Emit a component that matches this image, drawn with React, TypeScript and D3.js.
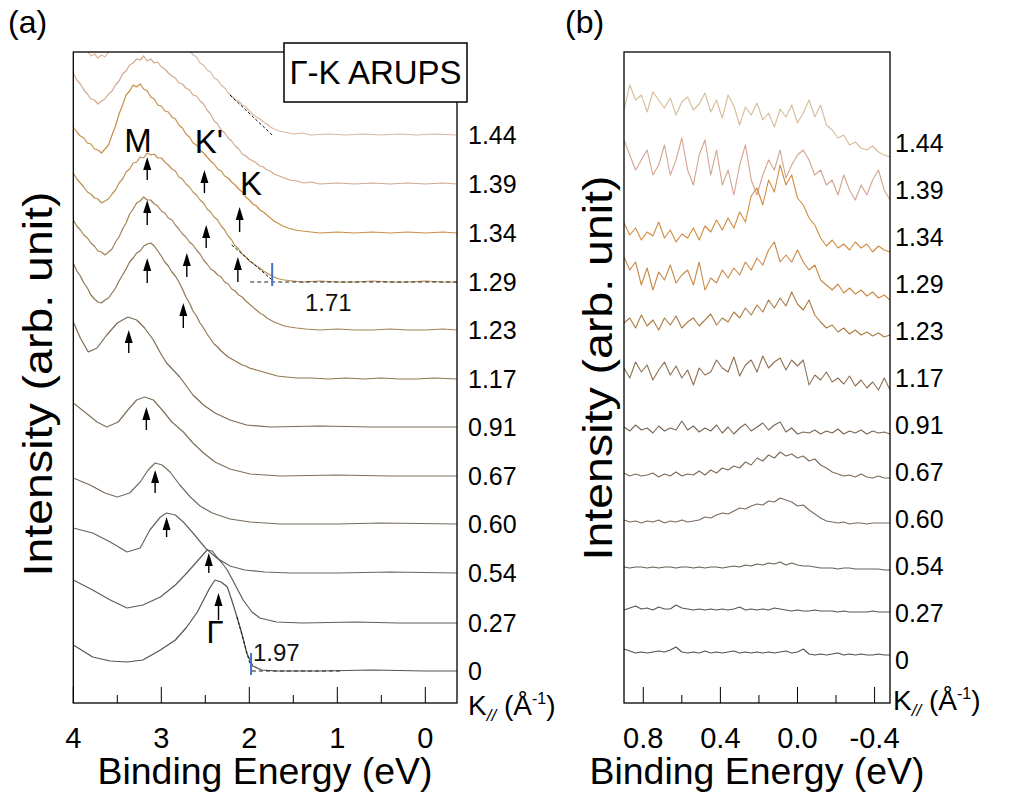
import React from "react";
import * as d3 from "d3";

const FONT = "'Liberation Sans', Arial, Helvetica, sans-serif";

// ---------- Panel (a): Γ-K ARUPS EDCs, [binding energy eV, intensity above own baseline] ----------
const K_LABELS = ["1.44", "1.39", "1.34", "1.29", "1.23", "1.17", "0.91", "0.67", "0.60", "0.54", "0.27", "0"];
const OFFSETS_A = [568, 519, 470, 421, 373, 324, 276, 227, 179, 130, 80, 32];
const COLORS_A = ["#d9b9a2", "#d2a98e", "#c98f45", "#bb9055", "#a38356", "#8f7552", "#7d6a56", "#7f705c", "#786c60", "#6c645c", "#625c56", "#57524e"];

const A144 = [[4.0,90],[3.96,86],[3.92,88],[3.88,83],[3.84,84],[3.8,79],[3.76,81],[3.72,77],[3.68,80],[3.64,78],[3.6,83],[3.56,86],[3.52,90],[3.48,95],[3.44,99],[3.4,105],[3.36,108],[3.32,114],[3.28,113],[3.24,119],[3.2,116],[3.16,121],[3.12,118],[3.08,122],[3.04,117],[3.0,118],[2.96,114],[2.92,112],[2.88,106],[2.84,104],[2.8,98],[2.76,96],[2.72,88],[2.68,85],[2.64,80],[2.6,78],[2.56,72],[2.52,70],[2.48,65],[2.44,63],[2.4,57],[2.36,55],[2.32,50],[2.28,47],[2.24,42],[2.2,39],[2.16,35],[2.12,34],[2.08,30],[2.04,28],[2.0,24],[1.96,21],[1.92,18],[1.88,16],[1.84,13],[1.8,11],[1.76,8],[1.72,6],[1.66,4],[1.6,3],[1.5,1],[1.4,2],[1.3,0],[1.1,1],[0.9,0],[0.7,1],[0.5,0],[0.3,1],[0.1,0],[-0.1,1],[-0.36,0]];
const A139 = [[4.0,111],[3.96,104],[3.92,100],[3.88,94],[3.84,90],[3.8,85],[3.76,84],[3.72,80],[3.68,83],[3.64,85],[3.6,90],[3.56,93],[3.52,99],[3.48,103],[3.44,110],[3.4,113],[3.36,119],[3.32,121],[3.28,125],[3.24,124],[3.2,128],[3.16,123],[3.12,125],[3.08,121],[3.04,122],[3.0,117],[2.96,115],[2.92,111],[2.88,108],[2.84,106],[2.8,101],[2.76,100],[2.72,96],[2.68,94],[2.64,89],[2.6,88],[2.56,83],[2.52,80],[2.48,74],[2.44,70],[2.4,63],[2.36,60],[2.32,54],[2.28,51],[2.24,46],[2.2,43],[2.16,38],[2.12,35],[2.08,30],[2.04,28],[2.0,25],[1.96,23],[1.92,21],[1.88,18],[1.84,17],[1.8,14],[1.76,13],[1.72,10],[1.66,8],[1.6,6],[1.54,4],[1.46,3],[1.38,1],[1.3,2],[1.2,0],[1.0,1],[0.8,0],[0.6,1],[0.4,0],[0.2,1],[0.0,0],[-0.2,1],[-0.36,0]];
const A134 = [[4.0,106],[3.96,101],[3.92,97],[3.88,95],[3.84,90],[3.8,89],[3.76,84],[3.72,83],[3.68,80],[3.64,84],[3.6,88],[3.56,98],[3.52,107],[3.48,119],[3.44,128],[3.4,138],[3.36,142],[3.32,148],[3.28,146],[3.24,149],[3.2,144],[3.16,142],[3.12,136],[3.08,134],[3.04,128],[3.0,127],[2.96,122],[2.92,121],[2.88,116],[2.84,114],[2.8,108],[2.76,105],[2.72,99],[2.68,96],[2.64,90],[2.6,88],[2.56,83],[2.52,80],[2.48,76],[2.44,72],[2.4,69],[2.36,64],[2.32,62],[2.28,57],[2.24,55],[2.2,51],[2.16,48],[2.12,44],[2.08,41],[2.04,36],[2.0,33],[1.96,29],[1.92,27],[1.88,23],[1.84,21],[1.8,18],[1.76,15],[1.72,12],[1.68,10],[1.62,7],[1.56,5],[1.48,3],[1.4,2],[1.3,1],[1.2,0],[1.0,1],[0.8,0],[0.6,1],[0.4,0],[0.2,1],[0.0,0],[-0.2,1],[-0.36,0]];
const A129 = [[4.0,109],[3.96,103],[3.92,99],[3.88,95],[3.84,90],[3.8,88],[3.76,84],[3.72,83],[3.68,79],[3.64,81],[3.6,83],[3.56,88],[3.52,92],[3.48,99],[3.44,103],[3.4,110],[3.36,113],[3.32,119],[3.28,120],[3.24,125],[3.2,124],[3.16,129],[3.12,127],[3.08,128],[3.04,124],[3.0,124],[2.96,120],[2.92,117],[2.88,113],[2.84,111],[2.8,105],[2.76,103],[2.72,98],[2.68,95],[2.64,90],[2.6,87],[2.56,82],[2.52,79],[2.48,73],[2.44,70],[2.4,65],[2.36,62],[2.32,56],[2.28,52],[2.24,46],[2.2,42],[2.16,36],[2.12,33],[2.08,28],[2.04,25],[2.0,21],[1.96,19],[1.92,16],[1.88,14],[1.84,11],[1.8,9],[1.76,7],[1.72,5],[1.66,3],[1.6,2],[1.5,1],[1.4,0],[1.2,1],[1.0,0],[0.8,0],[0.6,1],[0.4,0],[0.2,0],[0.0,1],[-0.2,0],[-0.36,0]];
const A123 = [[4.0,110],[3.96,104],[3.92,100],[3.88,95],[3.84,92],[3.8,87],[3.76,84],[3.72,79],[3.68,78],[3.64,75],[3.6,78],[3.56,81],[3.52,88],[3.48,93],[3.44,101],[3.4,107],[3.36,116],[3.32,121],[3.28,127],[3.24,129],[3.2,133],[3.16,130],[3.12,130],[3.08,126],[3.04,124],[3.0,119],[2.96,117],[2.92,112],[2.88,110],[2.84,105],[2.8,101],[2.76,96],[2.72,93],[2.68,88],[2.64,85],[2.6,80],[2.56,76],[2.52,70],[2.48,66],[2.44,61],[2.4,59],[2.36,55],[2.32,53],[2.28,48],[2.24,46],[2.2,41],[2.16,39],[2.12,35],[2.08,33],[2.04,29],[2.0,26],[1.96,23],[1.92,20],[1.88,17],[1.84,15],[1.8,12],[1.76,10],[1.72,8],[1.66,6],[1.6,4],[1.54,3],[1.46,2],[1.36,1],[1.2,0],[1.0,1],[0.8,0],[0.6,0],[0.4,1],[0.2,0],[0.0,0],[-0.2,1],[-0.36,0]];
const A117 = [[4.0,116],[3.96,108],[3.92,103],[3.88,96],[3.84,91],[3.8,84],[3.76,80],[3.72,77],[3.68,76],[3.64,79],[3.6,81],[3.56,86],[3.52,91],[3.48,98],[3.44,104],[3.4,110],[3.36,117],[3.32,121],[3.28,126],[3.24,128],[3.2,133],[3.16,135],[3.12,136],[3.08,133],[3.04,128],[3.0,123],[2.96,117],[2.92,113],[2.88,107],[2.84,103],[2.8,97],[2.76,90],[2.72,82],[2.68,76],[2.64,68],[2.6,63],[2.56,56],[2.52,51],[2.48,45],[2.44,40],[2.4,35],[2.36,32],[2.32,28],[2.28,25],[2.24,22],[2.2,20],[2.16,18],[2.12,16],[2.08,14],[2.04,13],[2.0,11],[1.92,9],[1.84,7],[1.76,5],[1.68,3],[1.58,2],[1.46,1],[1.3,1],[1.1,0],[0.9,1],[0.7,0],[0.5,1],[0.3,0],[0.1,0],[-0.1,1],[-0.36,0]];
const A091 = [[4.0,105],[3.92,89],[3.83,75],[3.73,79],[3.62,92],[3.5,104],[3.38,110],[3.28,107],[3.19,99],[3.09,87],[3.01,74],[2.94,64],[2.79,50],[2.64,32],[2.52,22],[2.39,14],[2.22,7],[2.03,2],[1.76,0],[1.2,1],[0.6,0],[-0.36,0]];
const A067 = [[4.0,73],[3.87,64],[3.73,54],[3.62,49],[3.49,54],[3.38,66],[3.28,76],[3.19,79],[3.09,76],[2.99,66],[2.88,54],[2.75,44],[2.64,33],[2.52,23],[2.39,14],[2.22,7],[1.99,2],[1.65,0],[1.0,1],[0.4,0],[-0.36,0]];
const A060 = [[4.0,46],[3.81,39],[3.64,31],[3.5,27],[3.36,31],[3.24,42],[3.15,54],[3.07,61],[2.99,59],[2.9,52],[2.79,39],[2.67,27],[2.56,18],[2.42,11],[2.22,5],[1.99,2],[1.65,0],[1.0,0],[0.5,1],[-0.36,0]];
const A054 = [[4.0,45],[3.78,40],[3.58,31],[3.39,21],[3.24,25],[3.13,43],[3.01,56],[2.94,60],[2.84,58],[2.75,51],[2.64,40],[2.5,25],[2.37,15],[2.22,7],[2.05,3],[1.82,1],[1.54,0],[1.0,0],[0.4,1],[-0.36,0]];
const A027 = [[4.0,43],[3.78,33],[3.58,23],[3.39,15],[3.21,18],[3.01,26],[2.84,38],[2.71,50],[2.59,62],[2.48,73],[2.42,72],[2.37,66],[2.31,60],[2.25,53],[2.16,38],[2.07,23],[1.97,11],[1.88,5],[1.69,1],[1.4,0],[0.8,1],[0.3,0],[-0.36,0]];
const A000 = [[4.0,26],[3.78,14],[3.58,10],[3.39,9],[3.21,11],[3.01,21],[2.84,31],[2.71,44],[2.59,59],[2.52,71],[2.45,83],[2.39,91],[2.32,89],[2.25,84],[2.2,71],[2.14,54],[2.08,36],[2.03,18],[1.96,5],[1.86,1],[1.69,0],[1.2,0],[0.6,1],[0.0,0],[-0.36,0]];
const SPECTRA_A = [A144, A139, A134, A129, A123, A117, A091, A067, A060, A054, A027, A000];

// feature arrows: energy (eV), absolute intensity at tip, length
const ARROW_E = [3.16, 2.51, 2.11, 3.16, 2.49, 2.13, 3.16, 2.71, 2.75, 3.37, 3.17, 3.07, 2.94, 2.46, 2.35];
const ARROW_TIP = [546, 533, 496, 503, 478, 446, 445, 450, 400, 373, 296, 233, 186, 150, 110];
const ARROW_LEN = [23, 23, 25, 25, 23, 25, 25, 24, 25, 23, 23, 23, 20, 20, 27];

// leading-edge fits: [E1, I1, E2, I2]
const EDGE_FITS = [[2.22, 608, 1.74, 568], [2.2, 458, 1.74, 423], [2.14, 86, 1.97, 32]];
const BASE_FITS = [[1.99, 421, -0.36, 421], [1.97, 32, 0.97, 32]];
const EDGE_MARKS = [[1.74, 417, 440, "1.71"], [1.98, 28, 50, "1.97"]];

// ---------- Panel (b): near E_F ----------
const ENERGY_B = [0.9,0.87,0.84,0.81,0.78,0.75,0.72,0.69,0.66,0.63,0.6,0.57,0.54,0.51,0.48,0.45,0.42,0.39,0.36,0.33,0.3,0.27,0.24,0.21,0.18,0.15,0.12,0.09,0.06,0.03,0.0,-0.03,-0.06,-0.09,-0.12,-0.15,-0.18,-0.21,-0.24,-0.27,-0.3,-0.33,-0.36,-0.39,-0.42,-0.45,-0.48];
const OFFSETS_B = [546, 503, 453, 406, 366, 316, 271, 225, 180, 134, 91, 48];
const COLORS_B = ["#d8bc9a", "#d3a48e", "#d08d3e", "#c88a46", "#a97c42", "#8e7052", "#7c6652", "#7d6b57", "#7b6b60", "#6a6056", "#5c5651", "#555150"];
const B144 = [47,72,57,62,45,65,57,49,59,42,55,60,47,53,64,45,57,39,62,51,32,50,42,54,37,44,30,48,40,52,34,44,57,40,52,32,27,19,22,12,15,9,7,11,5,2,0];
const B139 = [60,45,30,40,50,25,35,55,25,40,62,30,15,45,60,25,50,15,30,5,35,55,20,5,25,40,30,50,22,35,45,50,40,25,30,15,20,5,25,10,0,15,5,20,30,10,0];
const B134 = [27,15,22,10,18,14,28,12,20,8,16,12,22,10,24,18,30,20,32,22,38,28,54,62,45,70,58,85,65,75,52,45,32,25,12,4,10,2,6,0,8,2,6,-2,4,0,-2];
const B129 = [40,27,35,12,29,7,25,17,32,14,22,27,12,35,7,19,14,27,19,29,22,35,27,39,32,47,55,35,42,35,47,35,27,32,17,12,7,13,4,9,3,7,1,5,-1,2,-3];
const B123 = [14,19,9,22,11,17,7,19,12,21,9,15,19,11,17,23,12,19,15,25,19,29,22,32,25,37,29,39,31,45,33,27,37,22,15,9,12,5,9,3,7,2,5,1,4,0,2];
const B117 = [19,9,25,15,22,7,17,25,12,21,9,17,2,19,12,15,27,19,15,30,11,22,27,15,31,19,25,29,17,27,21,27,2,12,7,15,5,9,3,11,1,7,-1,5,-3,9,-3];
const B091 = [5,1,7,2,4,-1,6,1,4,2,11,2,6,0,4,1,7,-1,5,-2,4,8,1,5,9,2,7,10,0,4,-2,0,-1,2,-2,1,-1,3,-2,1,-1,2,-2,1,-1,0,-2];
const B067 = [5,2,4,2,3,5,1,4,2,6,2,4,3,7,3,8,5,10,8,12,10,16,13,20,17,23,20,26,22,24,20,22,17,19,13,10,6,4,2,3,1,4,1,0,2,0,0];
const B060 = [3,1,2,0,2,1,3,0,2,1,3,1,2,3,6,5,8,10,9,12,15,14,17,19,18,22,21,25,23,21,17,18,13,9,5,2,1,0,1,-1,0,0,-1,0,0,0,0];
const B054 = [2,1,2,2,1,2,1,2,2,1,2,2,1,2,1,2,2,1,2,3,2,4,3,5,4,6,5,7,4,6,4,3,3,2,1,1,1,0,1,1,0,0,0,0,0,-1,-1];
const B027 = [2,4,6,3,4,2,5,3,3,7,4,3,2,3,2,3,2,3,2,3,5,2,3,2,3,2,4,3,2,1,2,1,1,2,1,1,1,0,1,0,0,0,0,1,0,0,0];
const B000 = [6,4,2,3,2,3,4,3,5,8,3,2,3,2,4,2,3,2,3,4,2,3,2,3,2,3,2,3,4,2,3,6,1,0,1,0,1,2,0,1,0,1,0,0,1,0,0];
const SPECTRA_B = [B144, B139, B134, B129, B123, B117, B091, B067, B060, B054, B027, B000];

const TICKS_A_MAJOR = [4, 3, 2, 1, 0];
const TICKS_A_MINOR = [3.5, 2.5, 1.5, 0.5];
const TICKS_B_MAJOR = [0.8, 0.4, 0.0, -0.4];
const TICKS_B_MINOR = [0.6, 0.2, -0.2];
const TICK_LABELS_B = ["0.8", "0.4", "0.0", "-0.4"];

function KLabel({ x, y }: { x: number; y: number }) {
  return (
    <text x={x} y={y} fontFamily={FONT} fontSize={28} fill="#000">
      K<tspan fontSize={17} fontStyle="italic" dy={6}>//</tspan>
      <tspan fontSize={28} dy={-6}> (Å</tspan>
      <tspan fontSize={16} dy={-11}>-1</tspan>
      <tspan fontSize={28} dy={11}>)</tspan>
    </text>
  );
}

export default function App() {
  const L = 52, B = 703;
  const xA = d3.scaleLinear().domain([4, -0.36]).range([73.3, 457]);
  const xB = d3.scaleLinear().domain([0.9, -0.48]).range([624, 890]);
  const y = d3.scaleLinear().domain([0, 651]).range([B, L]);

  const lineA = (pts: number[][], off: number) =>
    d3.line<number[]>().x((d) => xA(d[0])).y((d) => y(d[1] + off))(pts) || "";
  const lineB = (vals: number[], off: number) =>
    d3.line<number>().x((_, i) => xB(ENERGY_B[i])).y((d) => y(d + off))(vals) || "";

  return (
    <svg width={1009} height={796} style={{ position: "absolute", left: 0, top: 0, background: "#fff" }}>
      <defs>
        <clipPath id="clipA"><rect x={73.3} y={L} width={457 - 73.3} height={B - L} /></clipPath>
        <clipPath id="clipB"><rect x={624} y={L} width={890 - 624} height={B - L} /></clipPath>
      </defs>
      <rect width={1009} height={796} fill="#fff" />

      {/* Panel a curves */}
      <g clipPath="url(#clipA)">
        {SPECTRA_A.map((s, i) => (
          <path key={i} d={lineA(s, OFFSETS_A[i])} fill="none" stroke={COLORS_A[i]} strokeWidth={1.2} strokeLinejoin="round" />
        ))}
        {EDGE_FITS.map((f, i) => (
          <line key={"ef" + i} x1={xA(f[0])} y1={y(f[1])} x2={xA(f[2])} y2={y(f[3])} stroke="#111" strokeWidth={1} strokeDasharray="3,2" />
        ))}
        {BASE_FITS.map((f, i) => (
          <line key={"bf" + i} x1={xA(f[0])} y1={y(f[1])} x2={xA(f[2])} y2={y(f[3])} stroke="#222" strokeWidth={1} strokeDasharray="4,3" />
        ))}
      </g>
      {EDGE_MARKS.map((m, i) => (
        <line key={"em" + i} x1={xA(m[0] as number)} x2={xA(m[0] as number)} y1={y(m[1] as number)} y2={y(m[2] as number)} stroke="#4472c4" strokeWidth={2} />
      ))}
      <text x={305} y={311} fontFamily={FONT} fontSize={24} fill="#111">{EDGE_MARKS[0][3]}</text>
      <text x={253} y={661} fontFamily={FONT} fontSize={24} fill="#111">{EDGE_MARKS[1][3]}</text>

      {/* arrows */}
      {ARROW_E.map((e, i) => {
        const x = xA(e), yt = y(ARROW_TIP[i]), yb = y(ARROW_TIP[i] - ARROW_LEN[i]);
        return (
          <g key={"ar" + i}>
            <line x1={x} x2={x} y1={yt + 8} y2={yb} stroke="#000" strokeWidth={1.4} />
            <path d={`M${x},${yt} L${x - 4},${yt + 13} L${x + 4},${yt + 13} Z`} fill="#000" />
          </g>
        );
      })}

      {/* feature labels */}
      <text x={138} y={152} textAnchor="middle" fontFamily={FONT} fontSize={33}>M</text>
      <text x={209} y={153} textAnchor="middle" fontFamily={FONT} fontSize={33}>K'</text>
      <text x={251} y={195} textAnchor="middle" fontFamily={FONT} fontSize={33}>K</text>
      <text x={215} y={643} textAnchor="middle" fontFamily={FONT} fontSize={31}>Γ</text>

      {/* Panel a frame */}
      <rect x={73.3} y={L} width={457 - 73.3} height={B - L} fill="none" stroke="#000" strokeWidth={1.3} />
      {TICKS_A_MAJOR.map((t) => (
        <line key={"ta" + t} x1={xA(t)} x2={xA(t)} y1={B} y2={B - 16} stroke="#000" strokeWidth={1} />
      ))}
      {TICKS_A_MINOR.map((t) => (
        <line key={"tam" + t} x1={xA(t)} x2={xA(t)} y1={B} y2={B - 8} stroke="#000" strokeWidth={1} />
      ))}
      {TICKS_A_MAJOR.map((t) => (
        <text key={"tla" + t} x={xA(t)} y={748} textAnchor="middle" fontFamily={FONT} fontSize={29}>{t}</text>
      ))}

      {/* box label */}
      <rect x={284} y={43} width={183} height={59} fill="#fff" stroke="#000" strokeWidth={1.5} />
      <text x={375.5} y={84} textAnchor="middle" fontFamily={FONT} fontSize={33}>Γ-K ARUPS</text>

      {/* right labels panel a */}
      {K_LABELS.map((k, i) => (
        <text key={"ka" + i} x={468} y={y(OFFSETS_A[i]) + 9} fontFamily={FONT} fontSize={25}>{k}</text>
      ))}
      <KLabel x={468} y={715} />

      {/* Panel b curves */}
      <g clipPath="url(#clipB)">
        {SPECTRA_B.map((s, i) => (
          <path key={"b" + i} d={lineB(s, OFFSETS_B[i])} fill="none" stroke={COLORS_B[i]} strokeWidth={1.1} strokeLinejoin="round" />
        ))}
      </g>
      <rect x={624} y={L} width={890 - 624} height={B - L} fill="none" stroke="#000" strokeWidth={1.3} />
      {TICKS_B_MAJOR.map((t) => (
        <line key={"tb" + t} x1={xB(t)} x2={xB(t)} y1={B} y2={B - 16} stroke="#000" strokeWidth={1} />
      ))}
      {TICKS_B_MINOR.map((t) => (
        <line key={"tbm" + t} x1={xB(t)} x2={xB(t)} y1={B} y2={B - 8} stroke="#000" strokeWidth={1} />
      ))}
      {TICKS_B_MAJOR.map((t, i) => (
        <text key={"tlb" + t} x={xB(t)} y={748} textAnchor="middle" fontFamily={FONT} fontSize={29}>{TICK_LABELS_B[i]}</text>
      ))}
      {K_LABELS.map((k, i) => (
        <text key={"kb" + i} x={895} y={143 + i * 47 + 9} fontFamily={FONT} fontSize={25}>{k}</text>
      ))}
      <KLabel x={893} y={710} />

      {/* axis titles */}
      <text x={265} y={784} textAnchor="middle" fontFamily={FONT} fontSize={37} textLength={335} lengthAdjust="spacingAndGlyphs">Binding Energy (eV)</text>
      <text x={757} y={784} textAnchor="middle" fontFamily={FONT} fontSize={37} textLength={335} lengthAdjust="spacingAndGlyphs">Binding Energy (eV)</text>
      <text transform="translate(52,384) rotate(-90)" textAnchor="middle" fontFamily={FONT} fontSize={40} textLength={385} lengthAdjust="spacingAndGlyphs">Intensity (arb. unit)</text>
      <text transform="translate(612,368) rotate(-90)" textAnchor="middle" fontFamily={FONT} fontSize={40} textLength={385} lengthAdjust="spacingAndGlyphs">Intensity (arb. unit)</text>

      {/* panel tags */}
      <text x={8} y={33} fontFamily={FONT} fontSize={32}>(a)</text>
      <text x={565} y={33} fontFamily={FONT} fontSize={32}>(b)</text>
    </svg>
  );
}
